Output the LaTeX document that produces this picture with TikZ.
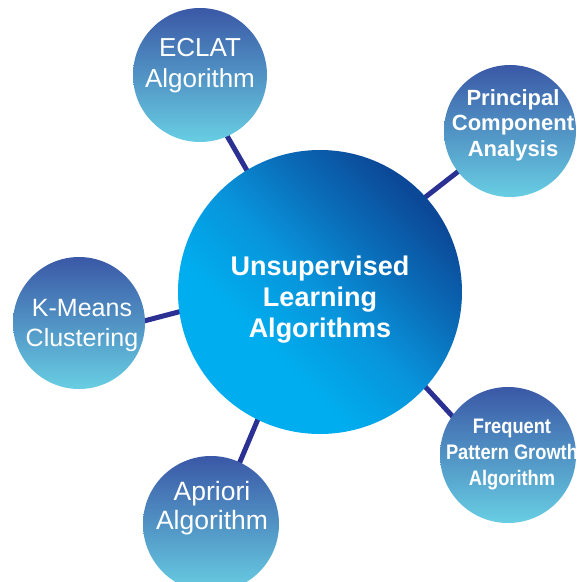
\documentclass[tikz,border=0pt]{standalone}
\usepackage{fontspec}
\setmainfont{Liberation Sans}
\newfontfamily\narrowfont[FakeStretch=0.87]{Liberation Sans}
\usetikzlibrary{backgrounds}
\definecolor{navy}{HTML}{2B3192}
\definecolor{ctop}{HTML}{3A58A6}
\definecolor{cbot}{HTML}{68CEE3}
\definecolor{cbright}{HTML}{00AEEF}
\definecolor{cmid}{HTML}{0894DB}
\definecolor{cmid2}{HTML}{0A6CB8}
\definecolor{cdark}{HTML}{0B4897}
\pgfdeclareverticalshading{hubshade}{100bp}{color(0bp)=(cbright); color(36bp)=(cbright); color(50bp)=(cmid); color(62bp)=(cmid2); color(74bp)=(cdark); color(100bp)=(cdark)}
\begin{document}
\begin{tikzpicture}[x=1pt,y=-1pt,
  hub/.style={circle, inner sep=0pt, minimum size=284pt, shading=hubshade, shading angle=-45},
  leaf/.style={circle, inner sep=0pt, top color=ctop, bottom color=cbot},
  link/.style={draw=navy, line width=5pt, shorten <=-4pt, shorten >=-4pt},
  lbl/.style={text=white, align=center, inner sep=0pt}]
\useasboundingbox (0,0) rectangle (580,582);
\node[hub] (c) at (320,292) {};
\node[leaf, minimum size=134pt] (e) at (200,75) {};
\node[leaf, minimum size=132pt] (p) at (510,131) {};
\node[leaf, minimum size=132pt] (k) at (79,323) {};
\node[leaf, minimum size=136pt] (a) at (211,524) {};
\node[leaf, minimum size=136pt] (f) at (508,455) {};
\node[lbl, font=\bfseries\fontsize{27}{31}\selectfont] (ctext) at (320,300) {Unsupervised\\Learning\hspace*{14pt}\\Algorithms};
\node[lbl, font=\fontsize{26}{31}\selectfont] (etext) at (200,66) {ECLAT\\Algorithm};
\node[lbl, font=\bfseries\fontsize{22}{25.5}\selectfont] (ptext) at (513,125) {Principal\\Component\\Analysis};
\node[lbl, font=\fontsize{25}{30}\selectfont] (ktext) at (82,325) {K-Means\\Clustering};
\node[lbl, font=\fontsize{26.5}{28.5}\selectfont] (atext) at (212,508) {Apriori\\Algorithm};
\node[lbl, font=\narrowfont\bfseries\fontsize{21}{26}\selectfont] (ftext) at (512,454) {Frequent\\Pattern Growth\\Algorithm};
\begin{pgfonlayer}{background}
\fill[white] (0,0) rectangle (580,582);
\draw[link] (c.121) -- (e.-66);
\draw[link] (c.42) -- (p.218);
\draw[link] (c.188) -- (k.2);
\draw[link] (c.244) -- (a.65);
\draw[link] (c.-42) -- (f.145);
\end{pgfonlayer}
\end{tikzpicture}
\end{document}
